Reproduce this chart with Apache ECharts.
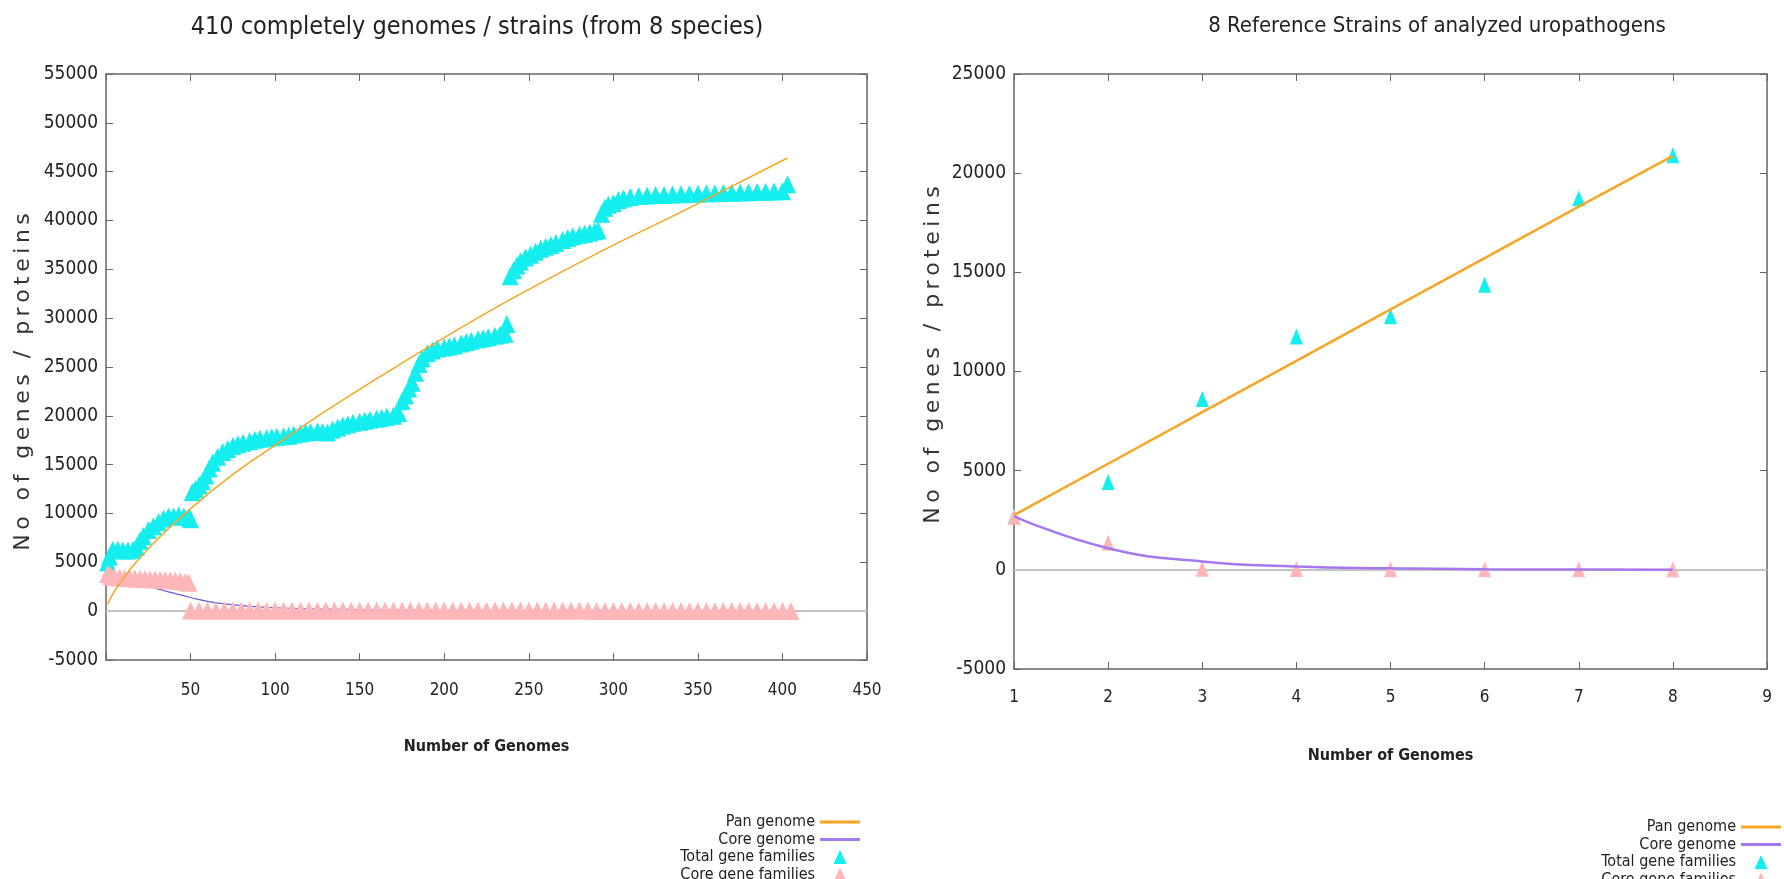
<!DOCTYPE html>
<html><head><meta charset="utf-8">
<script src="https://cdn.jsdelivr.net/npm/echarts@6/dist/echarts.min.js"></script>
<style>html,body{margin:0;padding:0;background:#fff}#c{width:1784px;height:879px}</style>
</head><body><div id="c"></div>
<script>
// ---------- DATA ----------
const leftTitle = '410 completely genomes / strains (from 8 species)';
const rightTitle = '8 Reference Strains of analyzed uropathogens';
const yName = 'No of genes / proteins';
const xName = 'Number of Genomes';
const seriesNames = ['Pan genome', 'Core genome', 'Total gene families', 'Core gene families'];

const leftX = {min: 0, max: 450, interval: 50};
const leftY = {min: -5000, max: 55000, interval: 5000};
const rightX = {min: 1, max: 9, interval: 1};
const rightY = {min: -5000, max: 25000, interval: 5000};

// left chart: 410 genomes  ([genomes, value])
const leftPan = [[1,700],[5,2050],[15,4450],[30,7300],[50,10500],[75,14000],[100,17000],[130,20500],[160,23800],[200,28000],[240,32000],[290,36600],[345,41300],[403,46400]];
const leftCore = [[1,3900],[10,3300],[20,2800],[30,2300],[40,1850],[50,1400],[60,1000],[70,750],[85,500],[100,350],[130,200],[160,130],[200,90],[250,60],[300,45],[350,35],[403,30]];
const leftTotalFamilies = [[1,5000],[2,5600],[4,6300],[7,6300],[10,6200],[13,6200],[16,6300],[18,6600],[20,7200],[22,7700],[25,8300],[28,8700],[31,9100],[34,9500],[37,9700],[40,9700],[43,9800],[46,9700],[49,9600],[50,9400],
[51,12200],[53,12500],[55,12900],[57,13300],[59,13900],[61,14600],[63,15200],[66,15800],[69,16300],[72,16600],[75,16900],[78,17100],[81,17250],[85,17400],[88,17550],[91,17650],[95,17700],[98,17800],[101,17850],[105,17900],[108,17950],[111,18100],[115,18200],[118,18300],[121,18350],[125,18400],[128,18350],[131,18300],[134,18600],[137,18800],[140,19000],[143,19150],[146,19300],[150,19400],[153,19500],[156,19600],[160,19700],[163,19800],[166,19900],[170,20000],[173,20300],
[175,21500],[177,22100],[179,22800],[181,23400],[183,24400],[185,25300],[187,25900],[190,26400],[193,26700],[196,26900],[200,27000],[203,27100],[206,27200],[210,27400],[213,27550],[216,27700],[220,27850],[223,27950],[226,28050],[230,28200],[233,28300],[236,28400],[237,29400],
[239,34300],[241,34900],[243,35400],[245,35800],[248,36200],[251,36500],[254,36800],[257,37100],[260,37300],[263,37500],[266,37700],[270,38000],[273,38200],[276,38400],[280,38550],[283,38650],[286,38750],[289,38900],[291,39000],
[293,40700],[295,41300],[297,41600],[300,41800],[303,42100],[306,42250],[310,42400],[315,42500],[320,42550],[325,42600],[330,42620],[335,42650],[340,42680],[345,42720],[350,42750],[355,42780],[360,42800],[365,42820],[370,42850],[375,42870],[380,42900],[385,42920],[390,42950],[395,42970],[400,43000],[403,43700]];
const leftCoreFamilies = [[1,3800],[3,3600],[5,3500],[8,3450],[11,3400],[14,3380],[17,3350],[20,3320],[23,3300],[26,3280],[29,3250],[32,3220],[35,3200],[38,3170],[41,3150],[44,3100],[47,3000],[49,2900],
[50,80],[55,80],[60,80],[65,80],[70,80],[75,80],[80,80],[85,80],[90,80],[95,80],[100,80],[105,80],[110,80],[115,80],[120,80],[125,80],[130,80],[135,80],[140,80],[145,80],[150,80],[155,80],[160,80],[165,80],[170,80],[175,80],[180,80],[185,80],[190,80],[195,80],[200,80],[205,80],[210,80],[215,80],[220,80],[225,80],[230,80],[235,80],[240,80],[245,80],[250,80],[255,80],[260,80],[265,80],[270,80],[275,80],[280,80],[285,80],
[290,20],[295,20],[300,20],[305,20],[310,20],[315,20],[320,20],[325,20],[330,20],[335,20],[340,20],[345,20],[350,20],[355,20],[360,20],[365,20],[370,20],[375,20],[380,20],[385,20],[390,20],[395,20],[400,20],[405,20]];

// right chart: 8 reference strains
const rightGenomes = [1, 2, 3, 4, 5, 6, 7, 8];
const rightPan = [2760, 5350, 7950, 10540, 13130, 15720, 18310, 20870];
const rightCore = [2700, 1090, 420, 170, 80, 35, 15, 5];
const rightTotalFamilies = [2700, 4430, 8610, 11760, 12780, 14380, 18730, 20900];
const rightCoreFamilies = [2680, 1370, 50, 40, 30, 30, 30, 30];

// ---------- spaced lettering for the rotated y names (drawn char by char) ----------
(function(){
  const P = CanvasRenderingContext2D.prototype, orig = P.fillText;
  P.fillText = function(t, x, y, m){
    if (t === yName) {
      const sp = 4.5, chars = Array.from(t);
      const ws = chars.map(ch => this.measureText(ch).width);
      const total = ws.reduce((a, b) => a + b, 0) + sp * (chars.length - 1);
      const al = this.textAlign;
      let sx = al === 'center' ? x - total / 2 : (al === 'right' || al === 'end') ? x - total : x;
      this.textAlign = 'left';
      for (let i = 0; i < chars.length; i++) { orig.call(this, chars[i], sx, y); sx += ws[i] + sp; }
      this.textAlign = al;
      return;
    }
    return m === undefined ? orig.call(this, t, x, y) : orig.call(this, t, x, y, m);
  };
})();

// ---------- font check ----------
function hasFont(name){
  const c = document.createElement('canvas').getContext('2d');
  const s = 'abcdefghijklmnopqrstuvwxyz0123456789';
  c.font = '40px monospace'; const a = c.measureText(s).width;
  c.font = '40px "' + name + '", monospace'; const b = c.measureText(s).width;
  c.font = '40px serif'; const a2 = c.measureText(s).width;
  c.font = '40px "' + name + '", serif'; const b2 = c.measureText(s).width;
  return a !== b || a2 !== b2;
}
const HAS_NARROW = hasFont('Liberation Sans Narrow');
const NARROW = HAS_NARROW ? '"Liberation Sans Narrow"' : '"DejaVu Sans Condensed","Liberation Sans",sans-serif';
const K = HAS_NARROW ? 1 : 0.82;
const fs = v => Math.round(v * K);

// ---------- OPTIONS ----------
const C = {pan: '#f5a623', coreL: '#6a5ce0', coreR: '#a678f0', total: '#14eeee', coreFam: '#ffb6b9', zero: '#c4c4c4', axis: '#666'};
const pair = (xs, ys) => xs.map((x, i) => [x, ys[i]]);
const plain = v => String(v);

function axisBase(grid, r, pos){
  return {type: 'value', gridIndex: grid, position: pos, min: r.min, max: r.max, interval: r.interval,
    axisLine: {show: true, onZero: false, lineStyle: {color: C.axis, width: 1.5}},
    axisTick: {show: true, inside: true, length: 7, lineStyle: {color: C.axis}},
    splitLine: {show: false}};
}
function mainX(grid, r, fmt, margin){
  return Object.assign(axisBase(grid, r, 'bottom'), {
    name: xName, nameLocation: 'middle', nameGap: 79,
    nameTextStyle: {fontFamily: NARROW, fontSize: fs(20), fontWeight: 'bold', color: '#222'},
    axisLabel: {margin: margin, fontFamily: NARROW, fontSize: fs(21), color: '#222', formatter: fmt}});
}
function mirror(grid, r, pos){ return Object.assign(axisBase(grid, r, pos), {axisLabel: {show: false}}); }
function mainY(grid, r){
  return Object.assign(axisBase(grid, r, 'left'), {
    axisLabel: {margin: 8, fontFamily: NARROW, fontSize: fs(23), color: '#222', formatter: plain}});
}
// legend icons: 40x14 boxes (tiny end points keep the full width so the shapes are not stretched)
const lineIcon = 'path://M0,0H40V2.8H0Z';
const triIcon = 'path://M0,7L0.01,7Z M40,7L39.99,7Z M20,0L26.5,14L13.5,14Z';
function legend(right, top){
  return {orient: 'vertical', align: 'right', right: right, top: top, height: 200, padding: 0,
    itemWidth: 40, itemHeight: 14, itemGap: 1.5, selectedMode: false,
    data: [{name: seriesNames[0], icon: lineIcon}, {name: seriesNames[1], icon: lineIcon},
           {name: seriesNames[2], icon: triIcon}, {name: seriesNames[3], icon: triIcon}],
    textStyle: {fontFamily: NARROW, fontSize: fs(19), lineHeight: 16, color: '#222'}};
}

const option = {
  animation: false,
  backgroundColor: '#fff',
  title: [
    {text: leftTitle, left: 472, top: 10, textAlign: 'center', textStyle: {fontFamily: NARROW, fontSize: fs(30), fontWeight: 'normal', color: '#222'}},
    {text: rightTitle, left: 1432, top: 10, textAlign: 'center', textStyle: {fontFamily: NARROW, fontSize: fs(27), fontWeight: 'normal', color: '#222'}}
  ],
  legend: [legend(924, 814), legend(3, 819)],
  grid: [
    {left: 106, top: 74, width: 761, height: 586, containLabel: false},
    {left: 1014, top: 74, width: 753, height: 595, containLabel: false}
  ],
  xAxis: [mainX(0, leftX, v => v === 0 ? '' : String(v), 22), mirror(0, leftX, 'top'), mainX(1, rightX, plain, 20), mirror(1, rightX, 'top')],
  yAxis: [mainY(0, leftY), mirror(0, leftY, 'right'), mainY(1, rightY), mirror(1, rightY, 'right')],
  graphic: [
    {type: 'text', x: 23, y: 382, rotation: Math.PI / 2, silent: true,
      style: {text: yName, font: '22px "DejaVu Sans"', fill: '#333', align: 'center', verticalAlign: 'middle'}},
    {type: 'text', x: 933, y: 355, rotation: Math.PI / 2, silent: true,
      style: {text: yName, font: '22px "DejaVu Sans"', fill: '#333', align: 'center', verticalAlign: 'middle'}}
  ],
  series: [
    // left
    {name: seriesNames[2], type: 'scatter', xAxisIndex: 0, yAxisIndex: 0, symbol: 'triangle', symbolSize: [17, 18], z: 10,
      itemStyle: {color: C.total, opacity: 1}, data: leftTotalFamilies,
      markLine: {silent: true, z: 1, symbol: 'none', label: {show: false}, lineStyle: {color: C.zero, width: 2, type: 'solid'}, data: [{yAxis: 0}]}},
    {name: seriesNames[1], type: 'line', xAxisIndex: 0, yAxisIndex: 0, symbol: 'none', smooth: true, z: 9,
      lineStyle: {color: C.coreL, width: 1.2}, itemStyle: {color: C.coreR}, data: leftCore},
    {name: seriesNames[3], type: 'scatter', xAxisIndex: 0, yAxisIndex: 0, symbol: 'triangle', symbolSize: [17, 18], z: 11,
      itemStyle: {color: C.coreFam, opacity: 1}, data: leftCoreFamilies},
    {name: seriesNames[0], type: 'line', xAxisIndex: 0, yAxisIndex: 0, symbol: 'none', smooth: true, z: 12,
      lineStyle: {color: C.pan, width: 1.5}, itemStyle: {color: C.pan}, data: leftPan},
    // right
    {name: seriesNames[2], type: 'scatter', xAxisIndex: 2, yAxisIndex: 2, symbol: 'triangle', symbolSize: [13, 16], z: 10,
      itemStyle: {color: C.total, opacity: 1}, data: pair(rightGenomes, rightTotalFamilies),
      markLine: {silent: true, z: 1, symbol: 'none', label: {show: false}, lineStyle: {color: C.zero, width: 2, type: 'solid'}, data: [{yAxis: 0}]}},
    {name: seriesNames[3], type: 'scatter', xAxisIndex: 2, yAxisIndex: 2, symbol: 'triangle', symbolSize: [13, 16], z: 11,
      itemStyle: {color: C.coreFam, opacity: 1}, data: pair(rightGenomes, rightCoreFamilies)},
    {name: seriesNames[0], type: 'line', xAxisIndex: 2, yAxisIndex: 2, symbol: 'none', z: 12,
      lineStyle: {color: C.pan, width: 2.5}, itemStyle: {color: C.pan}, data: pair(rightGenomes, rightPan)},
    {name: seriesNames[1], type: 'line', xAxisIndex: 2, yAxisIndex: 2, symbol: 'none', smooth: true, z: 12,
      lineStyle: {color: C.coreR, width: 2.5}, itemStyle: {color: C.coreR}, data: pair(rightGenomes, rightCore)}
  ]
};
const chart = echarts.init(document.getElementById('c'), null, {renderer: 'canvas'});
chart.setOption(option);
</script></body></html>
